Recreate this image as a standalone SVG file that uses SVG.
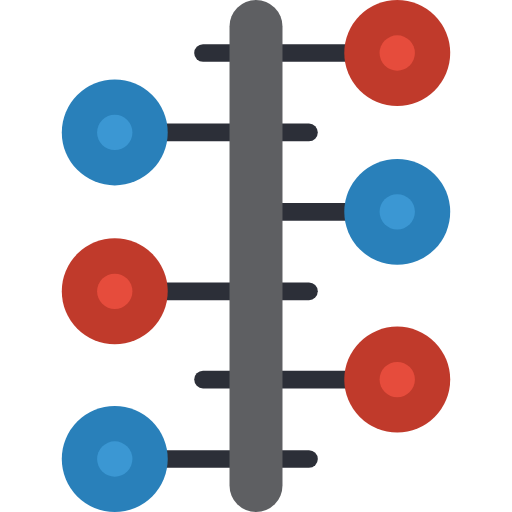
<svg xmlns="http://www.w3.org/2000/svg" width="512" height="512" viewBox="0 0 512 512">
<style>
.ln{stroke:#2C2F38;stroke-width:17.66;fill:none}
.rc{stroke-linecap:round}
.red{fill:#C03A2B}.redi{fill:#E64C3C}
.blue{fill:#2980BA}.bluei{fill:#3B97D3}
</style>
<g id="connectors">
<line class="ln rc" x1="203.03" y1="52.97" x2="397.24" y2="52.97"/>
<line class="ln rc" x1="114.76" y1="132.41" x2="308.97" y2="132.41"/>
<line class="ln" x1="270" y1="211.86" x2="397.24" y2="211.86"/>
<line class="ln rc" x1="114.76" y1="291.31" x2="308.97" y2="291.31"/>
<line class="ln rc" x1="203.03" y1="379.59" x2="397.24" y2="379.59"/>
<line class="ln rc" x1="114.76" y1="459.03" x2="308.97" y2="459.03"/>
</g>
<g id="bar"><rect x="229.52" y="0" width="52.97" height="512" rx="26.48" fill="#5E5F62"/></g>
<g id="n1"><circle class="red" cx="397.24" cy="52.97" r="52.97"/><circle class="redi" cx="397.24" cy="52.97" r="17.66"/></g>
<g id="n2"><circle class="blue" cx="114.76" cy="132.41" r="52.97"/><circle class="bluei" cx="114.76" cy="132.41" r="17.66"/></g>
<g id="n3"><circle class="blue" cx="397.24" cy="211.86" r="52.97"/><circle class="bluei" cx="397.24" cy="211.86" r="17.66"/></g>
<g id="n4"><circle class="red" cx="114.76" cy="291.31" r="52.97"/><circle class="redi" cx="114.76" cy="291.31" r="17.66"/></g>
<g id="n5"><circle class="red" cx="397.24" cy="379.59" r="52.97"/><circle class="redi" cx="397.24" cy="379.59" r="17.66"/></g>
<g id="n6"><circle class="blue" cx="114.76" cy="459.03" r="52.97"/><circle class="bluei" cx="114.76" cy="459.03" r="17.66"/></g>
</svg>
